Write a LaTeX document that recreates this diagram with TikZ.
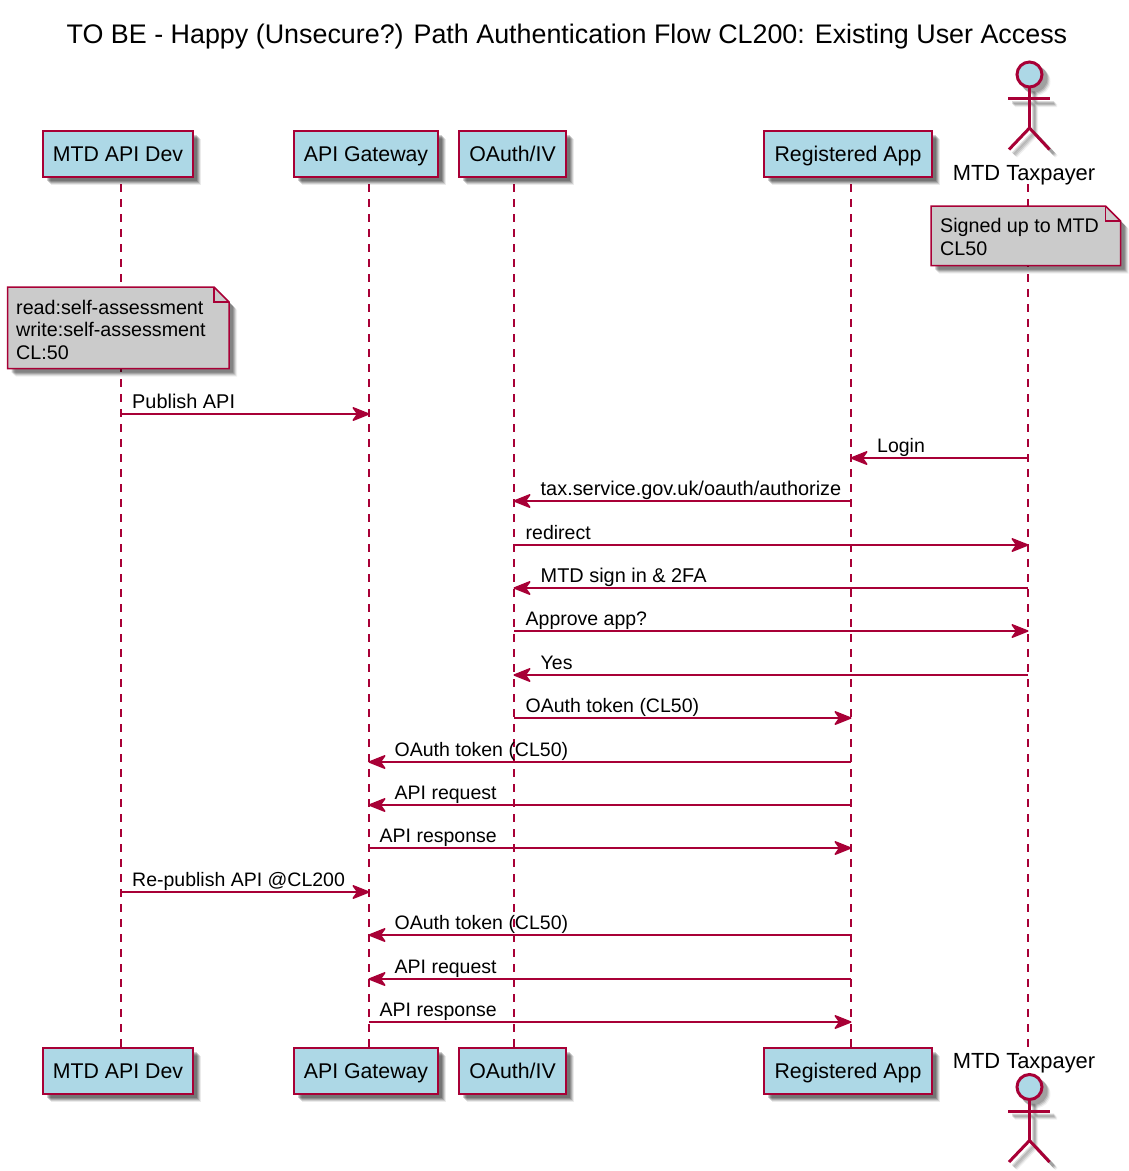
\documentclass[tikz,border=0pt]{standalone}
\usepackage{fontspec}
\setmainfont{Liberation Sans}
\usetikzlibrary{arrows.meta,shadows,calc}
\definecolor{plum}{HTML}{A80036}
\definecolor{boxblue}{HTML}{ADD8E6}
\definecolor{notegray}{HTML}{CBCBCB}
\newcommand{\widerlabel}{\fontsize{19.9}{23}\selectfont}
\tikzset{
  softshadow/.style={
    general shadow={shadow xshift=8pt,shadow yshift=-8pt,fill=black,opacity=.08},
    general shadow={shadow xshift=7pt,shadow yshift=-7pt,fill=black,opacity=.13},
    general shadow={shadow xshift=6pt,shadow yshift=-6pt,fill=black,opacity=.16},
    general shadow={shadow xshift=5pt,shadow yshift=-5pt,fill=black,opacity=.18},
    general shadow={shadow xshift=4pt,shadow yshift=-4pt,fill=black,opacity=.18}},
  pbox/.style={draw=plum,line width=2.6pt,fill=boxblue,softshadow,inner sep=0pt,
    minimum height=46pt,text height=20pt,text depth=5pt,font=\fontsize{21.3}{24}\selectfont,text=black},
  lifeline/.style={draw=plum,line width=1.5pt,dash pattern=on 7.5pt off 7.5pt},
  msgline/.style={draw=plum,line width=1.5pt,shorten >=-.5pt,-{Stealth[length=19.5pt,width=15.5pt,inset=5.5pt,round]}},
  msgtext/.style={anchor=base west,inner sep=0pt,font=\fontsize{19.5}{23}\selectfont,text=black},
  notebody/.style={draw=plum,line width=1.5pt,fill=notegray,line join=miter},
  notetext/.style={anchor=north west,inner sep=0pt,align=left,text=black,
    font=\fontsize{19.7}{22.5}\selectfont},
  actorlimb/.style={draw=plum,line width=3pt},
  actorlabel/.style={inner sep=0pt,anchor=base,font=\fontsize{21.9}{24}\selectfont,text=black},
  actorhead/.style={circle,draw=plum,line width=3pt,fill=boxblue,minimum size=25pt,inner sep=0pt},
}
\newcounter{msgno}
% message: from, to, y, label, label x
\newcommand{\msgarrow}[5]{%
  \stepcounter{msgno}%
  \edef\mid{\arabic{msgno}}%
  \coordinate (#1-\mid) at (#1top |- 0,-#3);
  \coordinate (#2-\mid) at (#2top |- 0,-#3);
  \draw[msgline] (#1-\mid) -- (#2-\mid);
  \node[msgtext] (lab-\mid) at (#5,-#3+6) {#4};
}
% actor figure, head centre y
\newcommand{\stickman}[2]{%
  \coordinate (#1neck) at (1029.5,-#2-12.5);
  \coordinate (#1hip) at (1029.5,-#2-53.5);
  \coordinate (#1armL) at (1008,-#2-24);
  \coordinate (#1armR) at (1050,-#2-24);
  \coordinate (#1legL) at (1009,-#2-75);
  \coordinate (#1legR) at (1049.5,-#2-75);
  \foreach \off/\op in {7/.06,6/.10,5/.14,4/.14}{
    \fill[black,opacity=\op] ([shift={(\off pt,-\off pt)}]1029.5,-#2) circle (14pt);
    \draw[black,opacity=\op,line width=3pt] ([shift={(\off pt,-\off pt)}]#1neck) -- ([shift={(\off pt,-\off pt)}]#1hip)
      ([shift={(\off pt,-\off pt)}]#1armL) -- ([shift={(\off pt,-\off pt)}]#1armR)
      ([shift={(\off pt,-\off pt)}]#1legL) -- ([shift={(\off pt,-\off pt)}]#1hip) -- ([shift={(\off pt,-\off pt)}]#1legR);
  }
  \draw[actorlimb] (#1neck) -- (#1hip);
  \draw[actorlimb] (#1armL) -- (#1armR);
  \draw[actorlimb,line join=bevel] (#1legL) -- (#1hip) -- (#1legR);
  \node[actorhead] (#1head) at (1029.5,-#2) {};
}
% note: left, right, top, bottom
\newcommand{\notepaper}[4]{%
  \foreach \off/\op in {8/.06,7/.10,6/.14,5/.16,4/.16}{
    \fill[black,opacity=\op,shift={(\off pt,-\off pt)}] (#1,-#3) -- (#2-15,-#3) -- (#2,-#3-15) -- (#2,-#4) -- (#1,-#4) -- cycle;
  }
  \path[notebody] (#1,-#3) -- (#2-15,-#3) -- (#2,-#3-15) -- (#2,-#4) -- (#1,-#4) -- cycle;
  \draw[draw=plum,line width=1.5pt,line join=miter] (#2-15,-#3) -- (#2-15,-#3-15) -- (#2,-#3-15);
}
\begin{document}
\begin{tikzpicture}[x=1pt,y=1pt]
\useasboundingbox (0,0) rectangle (1129,-1171);
\node[anchor=base,inner sep=0pt,font=\fontsize{26.87}{30}\selectfont,text=black] (title) at (567,-43) {TO BE - Happy (Unsecure?) Path Authentication Flow CL200: Existing User Access};

% lifeline anchors
\coordinate (devtop) at (121,-184);
\coordinate (devbot) at (121,-1048);
\coordinate (gwtop) at (369,-184);
\coordinate (gwbot) at (369,-1048);
\coordinate (oatop) at (514,-184);
\coordinate (oabot) at (514,-1048);
\coordinate (apptop) at (851,-184);
\coordinate (appbot) at (851,-1048);
\coordinate (taxtop) at (1028,-184);
\coordinate (taxbot) at (1028,-1048);
\draw[lifeline] (devtop) -- (devbot);
\draw[lifeline] (gwtop) -- (gwbot);
\draw[lifeline] (oatop) -- (oabot);
\draw[lifeline] (apptop) -- (appbot);
\draw[lifeline] (taxtop) -- (taxbot);

% participants
\node[pbox,minimum width=150pt] (devT) at (118,-154) {MTD API Dev};
\node[pbox,minimum width=144pt] (gwT) at (366,-154) {API Gateway};
\node[pbox,minimum width=107pt] (oaT) at (512.5,-154) {OAuth/IV};
\node[pbox,minimum width=168pt] (appT) at (848,-154) {Registered App};
\node[pbox,minimum width=150pt] (devB) at (118,-1071) {MTD API Dev};
\node[pbox,minimum width=144pt] (gwB) at (366,-1071) {API Gateway};
\node[pbox,minimum width=107pt] (oaB) at (512.5,-1071) {OAuth/IV};
\node[pbox,minimum width=168pt] (appB) at (848,-1071) {Registered App};

% actors
\stickman{tA}{74.5}
\node[actorlabel] (taxT) at (1024,-180) {MTD Taxpayer};
\node[actorlabel] (taxB) at (1024,-1068) {MTD Taxpayer};
\stickman{tB}{1087}

% notes
\notepaper{931}{1120.5}{206}{265.5}
\node[notetext] (note1) at (940,-218.5) {Signed up to MTD\\CL50};
\notepaper{7.5}{229}{287}{368.5}
\node[notetext] (note2) at (16,-300) {read:self-assessment\\write:self-assessment\\CL:50};

% messages
\msgarrow{dev}{gw}{414}{\widerlabel Publish API}{132}
\msgarrow{tax}{app}{458}{Login}{877}
\msgarrow{app}{oa}{501}{\widerlabel tax.service.gov.uk/oauth/authorize}{540.5}
\msgarrow{oa}{tax}{545}{redirect}{525.5}
\msgarrow{tax}{oa}{588}{\widerlabel MTD sign in \& 2FA}{540.5}
\msgarrow{oa}{tax}{631}{Approve app?}{525.5}
\msgarrow{tax}{oa}{675}{Yes}{540.5}
\msgarrow{oa}{app}{718}{OAuth token (CL50)}{525.5}
\msgarrow{app}{gw}{762}{OAuth token (CL50)}{394.5}
\msgarrow{app}{gw}{805}{API request}{394.5}
\msgarrow{gw}{app}{848}{API response}{379.5}
\msgarrow{dev}{gw}{892}{Re-publish API @CL200}{132}
\msgarrow{app}{gw}{935}{OAuth token (CL50)}{394.5}
\msgarrow{app}{gw}{979}{API request}{394.5}
\msgarrow{gw}{app}{1022}{API response}{379.5}
\end{tikzpicture}
\end{document}
